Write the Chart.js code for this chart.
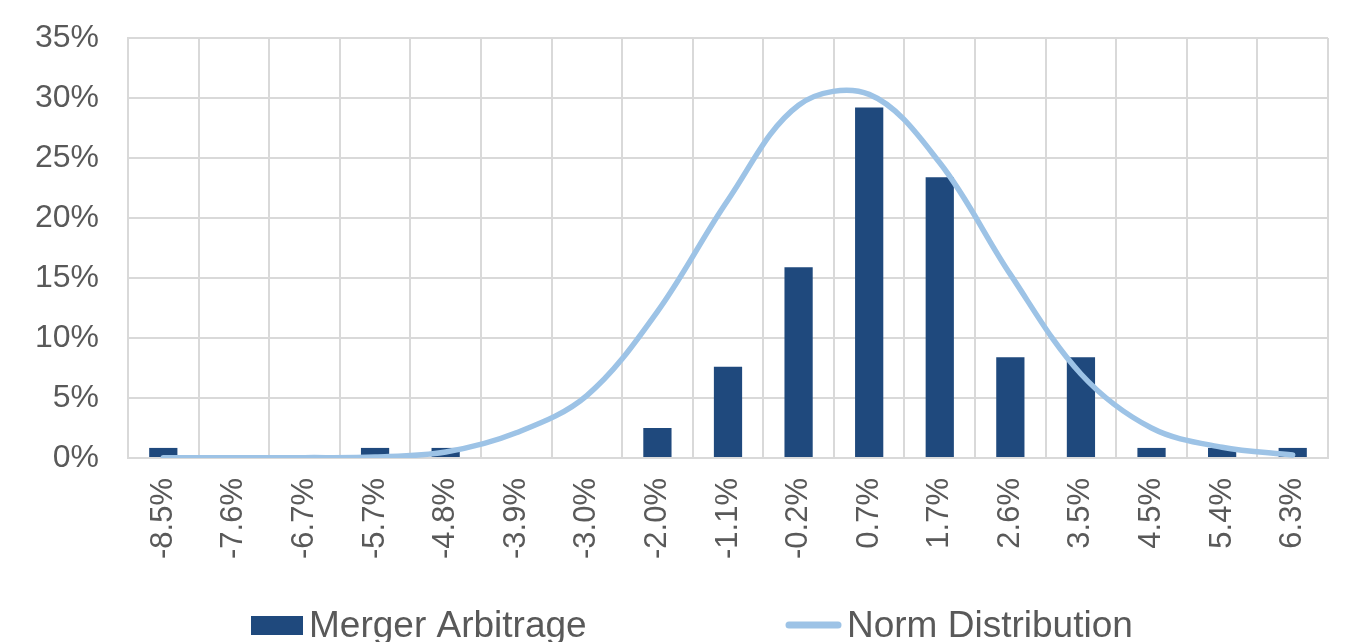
<!DOCTYPE html>
<html>
<head>
<meta charset="utf-8">
<script src="https://cdn.jsdelivr.net/npm/chart.js@4.4.1/dist/chart.umd.min.js"></script>
<style>
  html, body { margin: 0; padding: 0; background: #ffffff; overflow: hidden; }
  #wrap { width: 1348px; height: 642px; position: relative; }
</style>
</head>
<body>
<div id="wrap"><canvas id="c" width="1348" height="642"></canvas></div>
<script>
const categories = ['-8.5%','-7.6%','-6.7%','-5.7%','-4.8%','-3.9%','-3.0%','-2.0%','-1.1%','-0.2%','0.7%','1.7%','2.6%','3.5%','4.5%','5.4%','6.3%'];
const mergerArbitrage = [0.84, 0, 0, 0.84, 0.84, 0, 0, 2.5, 7.6, 15.9, 29.2, 23.4, 8.4, 8.4, 0.84, 0.84, 0.84];
const normDistribution = [0.02, 0.02, 0.03, 0.08, 0.5, 2.1, 5.2, 12.2, 21.5, 29.4, 30.3, 24.6, 15.3, 7.0, 2.5, 0.9, 0.25];
const yTicks = [0, 5, 10, 15, 20, 25, 30, 35];
const seriesNames = ['Merger Arbitrage', 'Norm Distribution'];

const BAR_COLOR = '#1F497D';
const LINE_COLOR = '#9DC3E6';
const TEXT_COLOR = '#595959';
const GRID_COLOR = '#D9D9D9';
const FONT = '"Liberation Sans", Arial, sans-serif';

const customLegend = {
  id: 'customLegend',
  afterDraw(chart) {
    const ctx = chart.ctx;
    const y = 625;
    ctx.save();
    ctx.font = '37px ' + FONT;
    ctx.textBaseline = 'middle';
    ctx.textAlign = 'left';
    // bar entry
    ctx.fillStyle = BAR_COLOR;
    ctx.fillRect(251, y - 9, 52, 19);
    ctx.fillStyle = TEXT_COLOR;
    ctx.fillText(seriesNames[0], 309, y + 2);
    // line entry
    ctx.strokeStyle = LINE_COLOR;
    ctx.lineWidth = 7;
    ctx.lineCap = 'round';
    ctx.beginPath();
    ctx.moveTo(789, y);
    ctx.lineTo(838, y);
    ctx.stroke();
    ctx.fillStyle = TEXT_COLOR;
    ctx.fillText(seriesNames[1], 847, y + 2);
    ctx.restore();
  }
};

new Chart(document.getElementById('c'), {
  data: {
    labels: categories,
    datasets: [
      {
        type: 'bar',
        label: seriesNames[0],
        data: mergerArbitrage,
        backgroundColor: BAR_COLOR,
        borderWidth: 0,
        barPercentage: 0.4,
        categoryPercentage: 1.0,
        order: 1
      },
      {
        type: 'line',
        label: seriesNames[1],
        data: normDistribution,
        borderColor: LINE_COLOR,
        backgroundColor: LINE_COLOR,
        borderWidth: 5.5,
        borderCapStyle: 'round',
        borderJoinStyle: 'round',
        pointRadius: 0,
        tension: 0.35,
        fill: false,
        order: 0
      }
    ]
  },
  options: {
    responsive: false,
    animation: false,
    devicePixelRatio: 1,
    layout: { padding: { top: 38, right: 20, left: 0, bottom: 74 } },
    plugins: {
      legend: { display: false },
      tooltip: { enabled: false }
    },
    scales: {
      x: {
        offset: true,
        grid: { offset: true, color: GRID_COLOR, lineWidth: 2, drawTicks: false },
        border: { color: GRID_COLOR, width: 2 },
        ticks: {
          color: TEXT_COLOR,
          font: { family: FONT, size: 31 },
          maxRotation: 90,
          minRotation: 90,
          padding: 20,
          autoSkip: false
        },
        afterFit(scale) { scale.height = 110; scale.paddingLeft = 0; scale.paddingRight = 0; }
      },
      y: {
        min: 0,
        max: 35,
        afterBuildTicks(scale) { scale.ticks = yTicks.map(v => ({ value: v })); },
        grid: { color: GRID_COLOR, lineWidth: 2, drawTicks: false },
        border: { color: GRID_COLOR, width: 2 },
        ticks: {
          color: TEXT_COLOR,
          font: { family: FONT, size: 32 },
          padding: 29,
          callback: v => v + '%'
        },
        afterFit(scale) { scale.width = 128; scale.paddingTop = 0; scale.paddingBottom = 0; }
      }
    }
  },
  plugins: [customLegend]
});
</script>
</body>
</html>
